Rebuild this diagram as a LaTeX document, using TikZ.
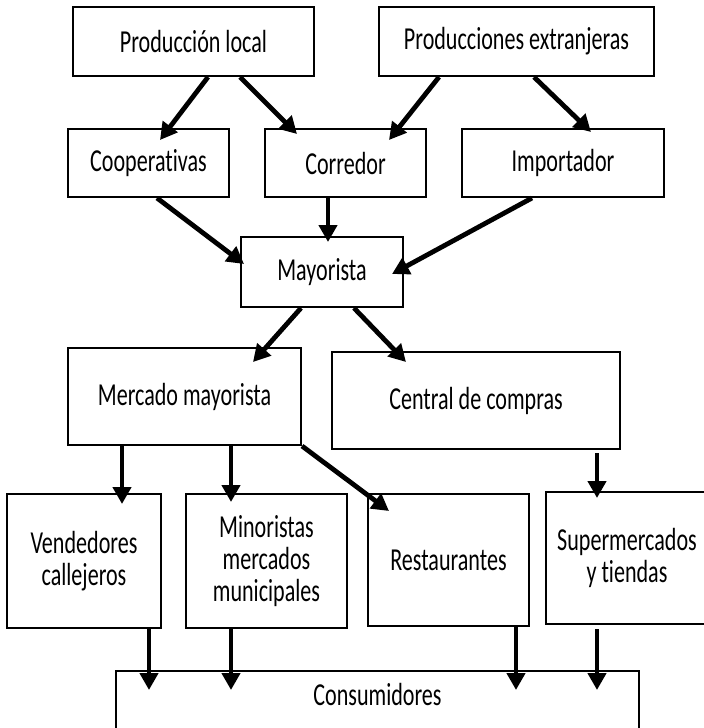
\documentclass[tikz,border=0pt]{standalone}
\usepackage{fontspec}
\setmainfont[FakeStretch=0.69, Ligatures=NoCommon]{Carlito}
\usetikzlibrary{arrows.meta}

\begin{document}
\begin{tikzpicture}[x=0.5pt, y=-0.5pt,
  caja/.style={draw, line width=1pt, inner sep=0pt, align=center,
    font=\fontsize{16pt}{15.8pt}\selectfont},
  flecha/.style={line width=2.4pt, -{Triangle[length=8.5pt,width=9pt]}}]
\useasboundingbox (0,0) rectangle (704,728);

\node[caja, minimum width=120.5pt, minimum height=34.5pt] (loc) at (193.5,41.5) {Producción local};
\node[caja, minimum width=137.5pt, minimum height=34.5pt] (ext) at (516.5,41.5) {Producciones extranjeras};

\node[caja, minimum width=80.5pt, minimum height=34pt] (coop) at (148.5,163) {Cooperativas};
\node[caja, minimum width=80.5pt, minimum height=34pt] (corr) at (345.5,163) {Corredor};
\node[caja, minimum width=101pt, minimum height=34pt] (imp) at (563,163) {Importador};

\node[caja, minimum width=81pt, minimum height=35pt] (may) at (322,272) {Mayorista};

\node[caja, minimum width=116.5pt, minimum height=48.5pt] (merc) at (184.5,396.5) {Mercado mayorista};
\node[caja, minimum width=144pt, minimum height=48.5pt] (cent) at (476,400.5) {Central de compras};

\node[caja, minimum width=77pt, minimum height=67pt] (vend) at (84,561) {Vendedores\\callejeros};
\node[caja, minimum width=80.5pt, minimum height=67pt] (mino) at (266.5,561) {Minoristas\\mercados\\municipales};
\node[caja, minimum width=80.5pt, minimum height=66pt] (rest) at (448.5,560) {Restaurantes};
\node[caja, minimum width=81pt, minimum height=66pt] (sup) at (627,558) {Supermercados\\y tiendas};

\node[caja, minimum width=261.5pt, minimum height=31pt, anchor=north] (cons) at (377.5,670)
  {\raisebox{4pt}[\height][\depth]{Consumidores}};

\draw[flecha] ([xshift=7.25pt]loc.south) -- ([xshift=5.75pt,yshift=-6pt]coop.north);
\draw[flecha] ([xshift=23.25pt]loc.south) -- ([xshift=-24.25pt,yshift=-3pt]corr.north);
\draw[flecha] ([xshift=-38.75pt]ext.south) -- ([xshift=21.75pt,yshift=-6pt]corr.north);
\draw[flecha] ([xshift=8.75pt]ext.south) -- ([xshift=14pt,yshift=-2pt]imp.north);

\draw[flecha] ([xshift=4.25pt]coop.south) -- ([xshift=2pt,yshift=-14pt]may.north west);
\draw[flecha] ([xshift=-8.75pt]corr.south) -- ([xshift=3pt,yshift=-3pt]may.north);
\draw[flecha] ([xshift=-15.5pt]imp.south) -- ([xshift=-6pt,yshift=-19pt]may.north east);

\draw[flecha] ([xshift=-10.5pt]may.south) -- ([xshift=34.25pt,yshift=-7.5pt]merc.north);
\draw[flecha] ([xshift=16pt]may.south) -- ([xshift=37.5pt,yshift=-5.5pt]cent.north west);

\draw[flecha] ([xshift=-31.25pt]merc.south) -- ([xshift=19pt,yshift=-5.5pt]vend.north);
\draw[flecha] ([xshift=23.25pt]merc.south) -- ([xshift=-17.75pt,yshift=-4.5pt]mino.north);
\draw[flecha] (merc.south east) -- ([xshift=11pt,yshift=-9pt]rest.north west);
\draw[flecha] ([xshift=60.5pt,yshift=-1.5pt]cent.south) -- ([xshift=-15pt,yshift=-3.5pt]sup.north);

\draw[flecha] ([xshift=32.5pt]vend.south) -- ([xshift=-114.25pt,yshift=-10pt]cons.north);
\draw[flecha] ([xshift=-17.75pt]mino.south) -- ([xshift=-73.25pt,yshift=-10pt]cons.north);
\draw[flecha] ([xshift=33.75pt]rest.south) -- ([xshift=69.25pt,yshift=-10pt]cons.north);
\draw[flecha] ([xshift=-15pt,yshift=-2pt]sup.south) -- ([xshift=109.75pt,yshift=-10pt]cons.north);
\end{tikzpicture}
\end{document}
